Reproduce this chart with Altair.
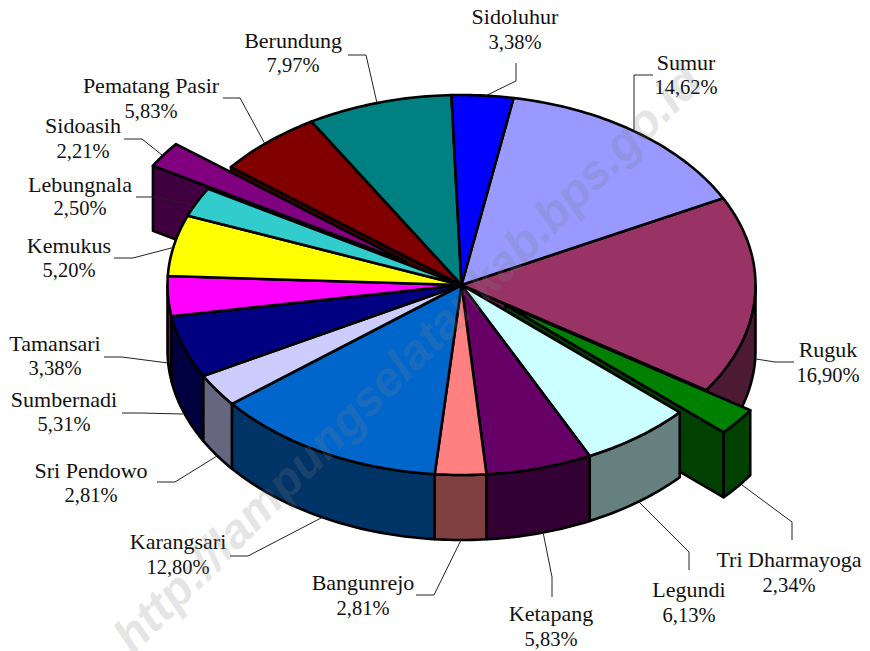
import math
import altair as alt

# ---- data, clockwise from the Sumur slice
names = ["Sumur", "Ruguk", "Tri Dharmayoga", "Legundi", "Ketapang", "Bangunrejo", "Karangsari",
         "Sri Pendowo", "Sumbernadi", "Tamansari", "Kemukus", "Lebungnala", "Sidoasih",
         "Pematang Pasir", "Berundung", "Sidoluhur"]
values = [14.62, 16.90, 2.34, 6.13, 5.83, 2.81, 12.80, 2.81, 5.31, 3.38, 5.20, 2.50, 2.21, 5.83, 7.97, 3.38]
colors = ["#9999FF", "#993366", "#008000", "#CCFFFF", "#660066", "#FF8080", "#0066CC", "#CCCCFF",
          "#000080", "#FF00FF", "#FFFF00", "#33CCCC", "#800080", "#800000", "#008080", "#0000FF"]
walls = ["#4D4D80", "#4D1A33", "#004000", "#668080", "#330033", "#804040", "#003366", "#666680",
         "#000040", "#800080", "#808000", "#1A6666", "#400040", "#400000", "#004040", "#000080"]

# ---- layout
CX, CY, RX, RY, DEPTH = 461.5, 285.0, 294.0, 190.0, 65.0
START = 10.2
EXPLODE = {"Tri Dharmayoga": (44, 20), "Sidoasih": (-55, -23)}
label_pos = {
    "Sidoluhur": (515, 17, 43), "Sumur": (686, 62.5, 88), "Ruguk": (828, 349.5, 376),
    "Tri Dharmayoga": (789, 559.5, 586), "Legundi": (689, 589.5, 616), "Ketapang": (551, 613.5, 640),
    "Bangunrejo": (363, 582.5, 609), "Karangsari": (178, 541.5, 568), "Sri Pendowo": (91, 470.5, 496),
    "Sumbernadi": (64, 399.5, 425), "Tamansari": (55, 343.5, 369), "Kemukus": (69, 245.5, 271),
    "Lebungnala": (80, 184.5, 209), "Sidoasih": (83, 125.5, 152), "Pematang Pasir": (151, 85.5, 112),
    "Berundung": (293, 40.5, 66),
}
leaders = {
    "Sidoasih": [(124, 139), (142, 139), (162, 155)],
    "Lebungnala": [(136, 197), (155, 197), (195, 205)],
    "Kemukus": [(114, 258), (133, 258), (175, 247)],
    "Tamansari": [(104, 357), (122, 357), (168, 363)],
    "Sumbernadi": [(122, 413), (140, 413), (183, 414)],
    "Sri Pendowo": [(157, 482), (175, 482), (217, 456)],
    "Karangsari": [(230, 556), (248, 556), (323, 517)],
    "Bangunrejo": [(416, 595), (434, 595), (461, 540)],
    "Ketapang": [(543, 532), (552, 577), (552, 597)],
    "Legundi": [(639, 502), (689, 552), (689, 570)],
    "Tri Dharmayoga": [(742, 485), (792, 522), (792, 540)],
    "Ruguk": [(756, 359), (775, 362), (794, 362)],
    "Sumur": [(634, 132), (634, 75), (653, 75)],
    "Sidoluhur": [(485, 96), (516, 81), (516, 63)],
    "Pematang Pasir": [(223, 98), (240, 98), (265, 144)],
    "Berundung": [(348, 55), (366, 55), (377, 103)],
}
total = sum(values)
spans = {}
t = START
for n, v in zip(names, values):
    spans[n] = (t, t + v / total * 360)
    t = spans[n][1]
top_col = dict(zip(names, colors))
wall_col = dict(zip(names, walls))


def pt(a, off=(0, 0), drop=0.0):
    r = math.radians(a)
    return [CX + RX * math.sin(r) + off[0], CY - RY * math.cos(r) + off[1] + drop]


def centre(off=(0, 0), drop=0.0):
    return [CX + off[0], CY + off[1] + drop]


def arc(a0, a1, off=(0, 0), drop=0.0):
    n = max(2, int(abs(a1 - a0)) + 2)
    return [pt(a0 + (a1 - a0) * i / (n - 1), off, drop) for i in range(n)]


def poly(coords, fill):
    ring = coords + [coords[0]]
    return {"type": "Feature", "properties": {"fill": fill},
            "geometry": {"type": "Polygon", "coordinates": [ring]}}


def top(n):
    off = EXPLODE.get(n, (0, 0))
    return poly([centre(off)] + arc(*spans[n], off), top_col[n])


def side(n, a0=None, a1=None):
    off = EXPLODE.get(n, (0, 0))
    s0, s1 = spans[n]
    a0 = s0 if a0 is None else a0
    a1 = s1 if a1 is None else a1
    return poly(arc(a0, a1, off) + arc(a1, a0, off, DEPTH), wall_col[n])


def radial(n, a):
    off = EXPLODE.get(n, (0, 0))
    return poly([centre(off), pt(a, off), pt(a, off, DEPTH), centre(off, DEPTH)], wall_col[n])


features = []
# things behind the pie
features.append(radial("Pematang Pasir", spans["Pematang Pasir"][0]))
features.append(radial("Sidoasih", spans["Sidoasih"][0]))
features.append(top("Sidoasih"))
# right side, then the exploded wedge
features.append(side("Ruguk", 90, spans["Ruguk"][1]))
features.append(radial("Ruguk", spans["Ruguk"][1]))
features.append(top("Ruguk"))
features.append(radial("Tri Dharmayoga", spans["Tri Dharmayoga"][1]))
features.append(side("Tri Dharmayoga"))
features.append(top("Tri Dharmayoga"))
# near walls
for n in ["Tamansari", "Sumbernadi", "Sri Pendowo", "Karangsari", "Bangunrejo", "Ketapang", "Legundi"]:
    s0, s1 = spans[n]
    features.append(side(n, max(s0, 90), min(s1, 270)))
# remaining top faces
for n in names:
    if n not in ("Sidoasih", "Ruguk", "Tri Dharmayoga"):
        features.append(top(n))

lines = [{"type": "Feature", "properties": {"name": n},
          "geometry": {"type": "LineString", "coordinates": [list(p) for p in c]}}
         for n, c in leaders.items()]

proj = dict(type="identity", scale=1, translate=[-8, -8])

pie = alt.Chart(alt.Data(values=features)).mark_geoshape(
    stroke="black", strokeWidth=2.6, strokeJoin="round"
).encode(fill=alt.Fill("properties.fill:N", scale=None)).project(**proj)

leader = alt.Chart(alt.Data(values=lines)).mark_geoshape(
    filled=False, stroke="#222222", strokeWidth=1
).project(**proj)

name_rows, value_rows = [], []
for n, v in zip(names, values):
    x, y1, y2 = label_pos[n]
    name_rows.append({"x": x - 8, "y": y1 - 8, "t": n})
    value_rows.append({"x": x - 8, "y": y2 - 8, "t": f"{v:.2f}%".replace(".", ",")})

enc = dict(x=alt.X("x:Q", scale=None, axis=None), y=alt.Y("y:Q", scale=None, axis=None), text="t:N")
name_text = alt.Chart(alt.Data(values=name_rows)).mark_text(
    font="Liberation Serif", fontSize=22, color="#111111", align="center", baseline="middle"
).encode(**enc)
value_text = alt.Chart(alt.Data(values=value_rows)).mark_text(
    font="Liberation Serif", fontSize=20.5, color="#111111", align="center", baseline="middle"
).encode(**enc)

mark = alt.Chart(alt.Data(values=[{"x": 409 - 8, "y": 360 - 8, "t": "http://lampungselatankab.bps.go.id"}])).mark_text(
    font="Liberation Sans", fontSize=48, fontWeight="bold", fontStyle="italic",
    color="#808080", opacity=0.2, angle=315, align="center", baseline="middle"
).encode(**enc)

chart = alt.layer(pie, leader, name_text, value_text, mark).properties(
    width=854, height=643, autosize="none", padding=0, background="white"
).configure_view(stroke=None)

chart.save("out.html", embed_options={"renderer": "svg", "actions": False})
